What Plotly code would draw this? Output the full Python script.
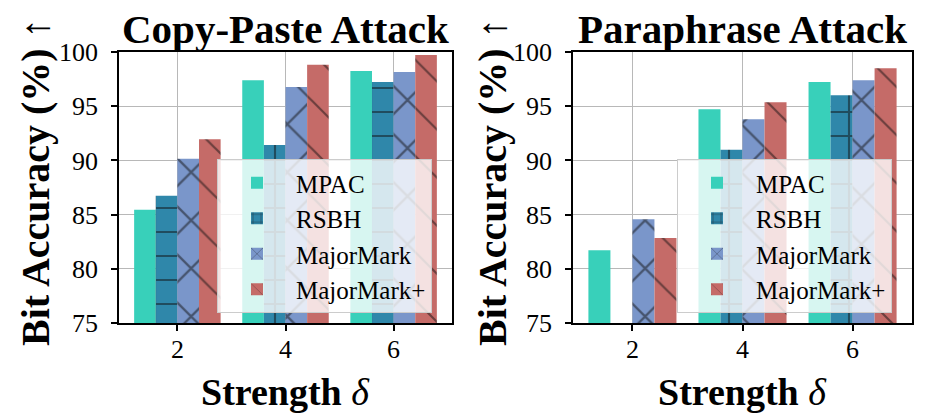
import plotly.graph_objects as go

strengths = [2, 4, 6]
methods = ["MPAC", "RSBH", "MajorMark", "MajorMark+"]
copy_paste = {
    "MPAC": [85.45, 97.39, 98.25],
    "RSBH": [86.75, 91.42, 97.23],
    "MajorMark": [90.16, 96.77, 98.16],
    "MajorMark+": [91.94, 98.83, 99.72],
}
paraphrase = {
    "MPAC": [81.70, 94.71, 97.23],
    "RSBH": [None, 90.99, 96.00],
    "MajorMark": [84.56, 93.79, 97.39],
    "MajorMark+": [82.84, 95.36, 98.49],
}
y_ticks = [75, 80, 85, 90, 95, 100]
titles = ["Copy-Paste Attack", "Paraphrase Attack"]

colors = {"MPAC": "#38D0BA", "RSBH": "#2F87AA", "MajorMark": "#7A96CA", "MajorMark+": "#C56B68"}
patterns = {
    "MPAC": dict(shape=""),
    "RSBH": dict(shape="+", size=24, solidity=0.17),
    "MajorMark": dict(shape="x", size=34, solidity=0.13),
    "MajorMark+": dict(shape="\\", size=34, solidity=0.066),
}

FONT = "Liberation Serif, Times New Roman, serif"
W, H = 926, 420
fig = go.Figure()

for i, data in enumerate([copy_paste, paraphrase]):
    xa = "x" if i == 0 else "x2"
    ya = "y" if i == 0 else "y2"
    lg = "legend" if i == 0 else "legend2"
    for m in methods:
        pat = dict(patterns[m])
        if pat["shape"]:
            pat.update(fgcolor="#111111", bgcolor=colors[m], fillmode="overlay")
        fig.add_trace(go.Bar(
            x=strengths, y=data[m], name=m, xaxis=xa, yaxis=ya,
            marker=dict(color=colors[m], line=dict(width=0), pattern=pat),
            legend=lg, legendgroup=m + str(i),
        ))

axis_common = dict(
    showline=True, mirror=True, linecolor="black", linewidth=1.5,
    ticks="outside", ticklen=6, tickwidth=1.5, tickcolor="black",
    showgrid=True, gridcolor="#b8b8b8", gridwidth=1.2, automargin=False,
    tickfont=dict(family=FONT, size=26, color="black"), zeroline=False,
)
xaxis_extra = dict(range=[0.92, 7.08], tickvals=strengths, ticklabelstandoff=-4)
yaxis_extra = dict(range=[75, 100], tickvals=y_ticks, ticklabelstandoff=8)

dom_left = [119 / W, 452 / W]
dom_right = [573 / W, 912 / W]
ydom = [1 - 323 / H, 1 - 52 / H]

fig.update_layout(
    width=W, height=H, margin=dict(l=0, r=0, t=0, b=0, autoexpand=False),
    paper_bgcolor="white", plot_bgcolor="white",
    barmode="group", bargap=0.2, bargroupgap=0,
    font=dict(family=FONT, color="black"),
    xaxis=dict(domain=dom_left, anchor="y", **xaxis_extra, **axis_common),
    yaxis=dict(domain=ydom, anchor="x", **yaxis_extra, **axis_common),
    xaxis2=dict(domain=dom_right, anchor="y2", **xaxis_extra, **axis_common),
    yaxis2=dict(domain=ydom, anchor="x2", **yaxis_extra, **axis_common),
)

legend_common = dict(
    bgcolor="rgba(255,255,255,0.8)", bordercolor="#cccccc", borderwidth=1,
    font=dict(family=FONT, size=25, color="black"), yanchor="top", xanchor="left",
    tracegroupgap=0, itemsizing="constant", itemwidth=68,
)
fig.update_layout(
    legend=dict(x=217 / W, y=1 - 159 / H, **legend_common),
    legend2=dict(x=677 / W, y=1 - 159 / H, **legend_common),
)

# titles and axis labels
centers = [(dom_left[0] + dom_left[1]) / 2, (dom_right[0] + dom_right[1]) / 2]
for i, c in enumerate(centers):
    fig.add_annotation(text="<b>" + titles[i] + "</b>", x=c, y=1 - 29 / H, xref="paper", yref="paper",
                       showarrow=False, font=dict(family=FONT, size=41, color="black"),
                       xanchor="center", yanchor="middle")
    fig.add_annotation(text="<b>Strength</b> <i>δ</i>", x=c, y=1 - 392 / H, xref="paper", yref="paper",
                       showarrow=False, font=dict(family=FONT, size=38, color="black"),
                       xanchor="center", yanchor="middle")
for xc in [35, 492]:
    fig.add_annotation(text="<b>Bit Accuracy (%)</b> ↑", x=xc / W, y=1 - 182 / H, xref="paper", yref="paper",
                       showarrow=False, textangle=-90, font=dict(family=FONT, size=40, color="black"),
                       xanchor="center", yanchor="middle")

fig.write_html("out.html", config={"displayModeBar": False},
               post_script="document.body.style.margin='0';document.body.style.overflow='hidden';")
